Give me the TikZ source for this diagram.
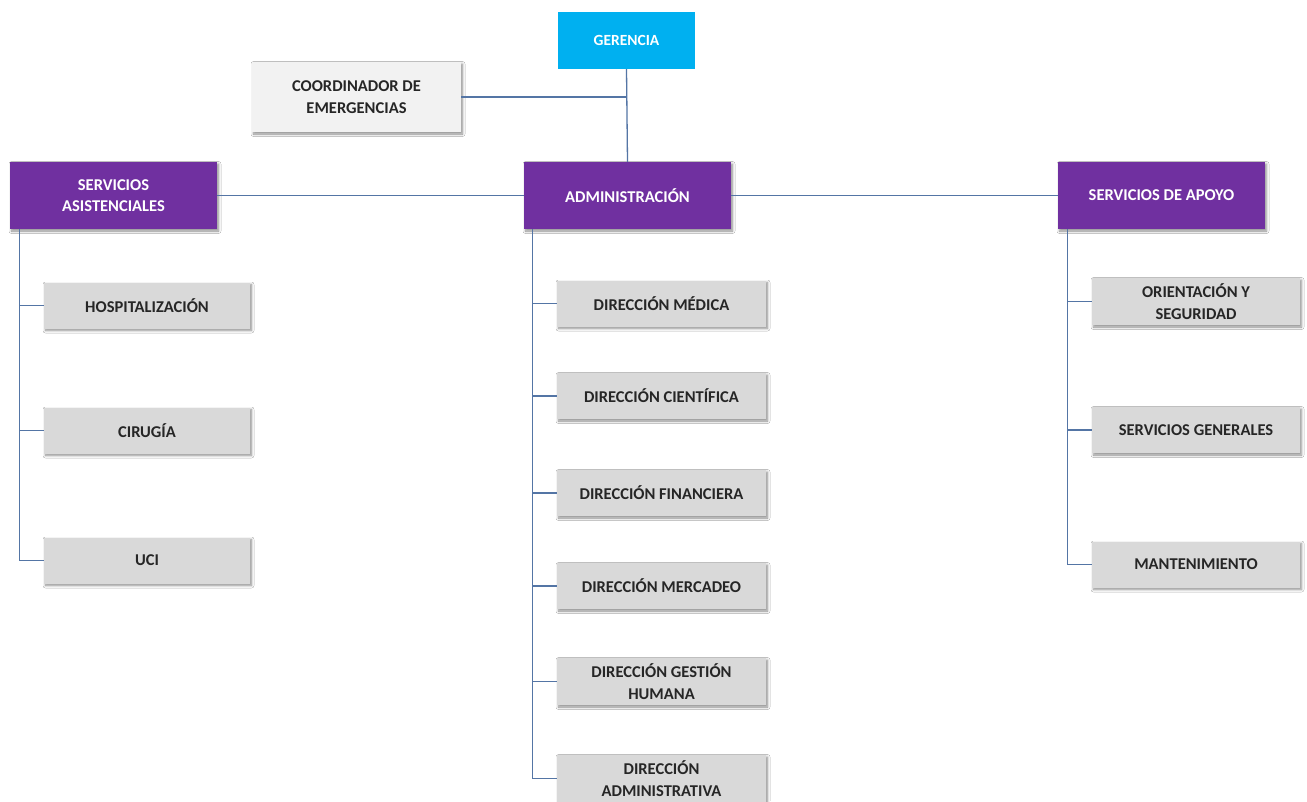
\documentclass[tikz,border=0pt]{standalone}
\usepackage{fontspec}
\setmainfont{Carlito}
\usetikzlibrary{shadows.blur}
\definecolor{cgray}{HTML}{D9D9D9}
\definecolor{clight}{HTML}{F2F2F2}
\definecolor{cpurple}{HTML}{7030A0}
\definecolor{ccyan}{HTML}{00B0F0}
\definecolor{cline}{RGB}{84,117,165}
\definecolor{ctext}{HTML}{262626}
\tikzset{
  base/.style={rectangle, inner sep=2pt, align=center, font=\fontsize{16.5}{21.5}\selectfont\bfseries},
  shad/.style={blur shadow={shadow xshift=1.5pt, shadow yshift=-2pt, shadow blur radius=2.5pt, shadow blur steps=6, shadow opacity=45}},
  graybox/.style={base, fill=cgray, text=ctext, minimum width=207pt, minimum height=46pt, shad},
  purplebox/.style={base, fill=cpurple, text=white, minimum width=207pt, minimum height=67pt, shad},
  cyanbox/.style={base, fill=ccyan, text=white, font=\fontsize{15.5}{20}\selectfont\bfseries, minimum width=137pt, minimum height=57pt},
  lightbox/.style={base, fill=clight, text=ctext, minimum width=209pt, minimum height=70pt, shad},
  conn/.style={draw=cline, line width=1.3pt}
}
\begin{document}
\begin{tikzpicture}[x=1pt,y=-1pt]
\useasboundingbox[fill=white] (0,0) rectangle (1307,801);
% top
\node[cyanbox] (ger) at (626.5,40.5) {GERENCIA};
\node[lightbox] (coord) at (356.5,97) {COORDINADOR DE\\EMERGENCIAS};
\node[purplebox] (adm) at (627.5,195.5) {ADMINISTRACIÓN};
\node[purplebox] (sasis) at (113.5,195.5) {SERVICIOS\\ASISTENCIALES};
\node[purplebox] (sapo) at (1161.5,195.5) {SERVICIOS DE APOYO};
% left
\node[graybox, minimum width=206pt] (hosp) at (147,305.5) {HOSPITALIZACIÓN};
\node[graybox, minimum width=206pt] (cir) at (147,430.5) {CIRUGÍA};
\node[graybox, minimum width=206pt] (uci) at (147,560.5) {UCI};
% middle
\node[graybox, minimum width=209pt] (dmed) at (661.5,303.5) {DIRECCIÓN MÉDICA};
\node[graybox, minimum width=209pt] (dcie) at (661.5,396) {DIRECCIÓN CIENTÍFICA};
\node[graybox, minimum width=209pt] (dfin) at (661.5,493) {DIRECCIÓN FINANCIERA};
\node[graybox, minimum width=209pt] (dmer) at (661.5,586) {DIRECCIÓN MERCADEO};
\node[graybox, minimum width=209pt, minimum height=47pt] (dgh) at (661.5,681.5) {DIRECCIÓN GESTIÓN\\HUMANA};
\node[graybox, minimum width=209pt, minimum height=47pt] (dadm) at (661.5,778.5) {DIRECCIÓN\\ADMINISTRATIVA};
% right
\node[graybox, minimum width=208pt, minimum height=47pt] (ori) at (1196,301.5) {ORIENTACIÓN Y\\SEGURIDAD};
\node[graybox, minimum width=208pt] (sgen) at (1196,430) {SERVICIOS GENERALES};
\node[graybox, minimum width=208pt] (mant) at (1196,564.5) {MANTENIMIENTO};
% trunks
\coordinate (lt) at ([xshift=10pt]sasis.south west);
\coordinate (mt) at ([xshift=9pt]adm.south west);
\coordinate (rt) at ([xshift=10pt]sapo.south west);
% connectors
\draw[conn] (ger.south) -- (adm.north);
\draw[conn] (coord.east) -- (coord.east -| ger.south);
\draw[conn] (sasis.east) -- (adm.west);
\draw[conn] (adm.east) -- (sapo.west);
\draw[conn] (lt) |- (hosp.west) (lt) |- (cir.west) (lt) |- (uci.west);
\draw[conn] (mt) |- (dmed.west) (mt) |- (dcie.west) (mt) |- (dfin.west)
  (mt) |- (dmer.west) (mt) |- (dgh.west) (mt) |- (dadm.west);
\draw[conn] (rt) |- (ori.west) (rt) |- (sgen.west) (rt) |- (mant.west);
\end{tikzpicture}
\end{document}
